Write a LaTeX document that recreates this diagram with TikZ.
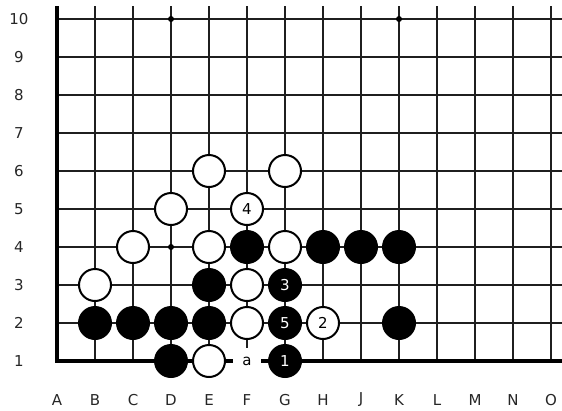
\documentclass[tikz,border=0pt]{standalone}
\usepackage{fontspec}
\setmainfont{DejaVu Sans}
\begin{document}
\begin{tikzpicture}[x=1pt,y=-1pt,
  gridline/.style={line width=1.4pt,draw=black!88},
  edgeline/.style={line width=3.2pt,draw=black,line join=miter},
  lbl/.style={font=\fontsize{15}{15}\selectfont,text=black!85,inner sep=0pt},
  bstone/.style={circle,fill=black,draw=none,minimum size=34pt,inner sep=0pt,text=white,font=\fontsize{15}{15}\selectfont},
  wstone/.style={circle,fill=white,draw=black,line width=2pt,minimum size=32pt,inner sep=0pt,text=black,font=\fontsize{15}{15}\selectfont},
  starpt/.style={circle,fill=black,minimum size=6pt,inner sep=0pt},
  pointlabel/.style={fill=white,minimum width=28pt,minimum height=26pt,inner sep=0pt,font=\fontsize{15}{15}\selectfont}]
\useasboundingbox (0,0) rectangle (562,410);
% coordinates
\foreach \c [count=\i from 0] in {A,B,C,D,E,F,G,H,J,K,L,M,N,O}{
  \foreach \r in {1,...,10}{
    \coordinate (\c\r) at ({57+38*\i},{19+38*(10-\r)});
  }
}
% grid
\foreach \c in {B,C,D,E,F,G,H,J,K,L,M,N,O}{
  \coordinate (top\c) at (\c10 |- 0,6);
  \draw[gridline] (top\c) -- (\c1);
}
\foreach \r in {2,...,10}{
  \coordinate (right\r) at (562,0 |- A\r);
  \draw[gridline] (A\r) -- (right\r);
}
\coordinate (topA) at (57,6);
\coordinate (rightB) at (562,361);
\draw[edgeline] (topA) -- (A1) -- (rightB);
% star points
\node[starpt] (sD10) at (D10) {};
\node[starpt] (sK10) at (K10) {};
\node[starpt] (sD4) at (D4) {};
% labels
\foreach \r in {1,...,10}{
  \node[lbl] (row\r) at (19,0 |- A\r) {\r};
}
\foreach \c in {A,B,C,D,E,F,G,H,J,K,L,M,N,O}{
  \node[lbl] (col\c) at (\c1 |- 0,400) {\c};
}
% white stones
\foreach \p in {E6,G6,D5,C4,E4,G4,B3,F3,F2,E1}{
  \node[wstone] (w\p) at (\p) {};
}
\node[wstone] (wF5) at (F5) {4};
\node[wstone] (wH2) at (H2) {2};
% black stones
\foreach \p in {F4,H4,J4,K4,E3,B2,C2,D2,E2,K2,D1}{
  \node[bstone] (b\p) at (\p) {};
}
\node[bstone] (bG3) at (G3) {3};
\node[bstone] (bG2) at (G2) {5};
\node[bstone] (bG1) at (G1) {1};
% point label a
\node[pointlabel] (ma) at (F1) {a};
\end{tikzpicture}
\end{document}
